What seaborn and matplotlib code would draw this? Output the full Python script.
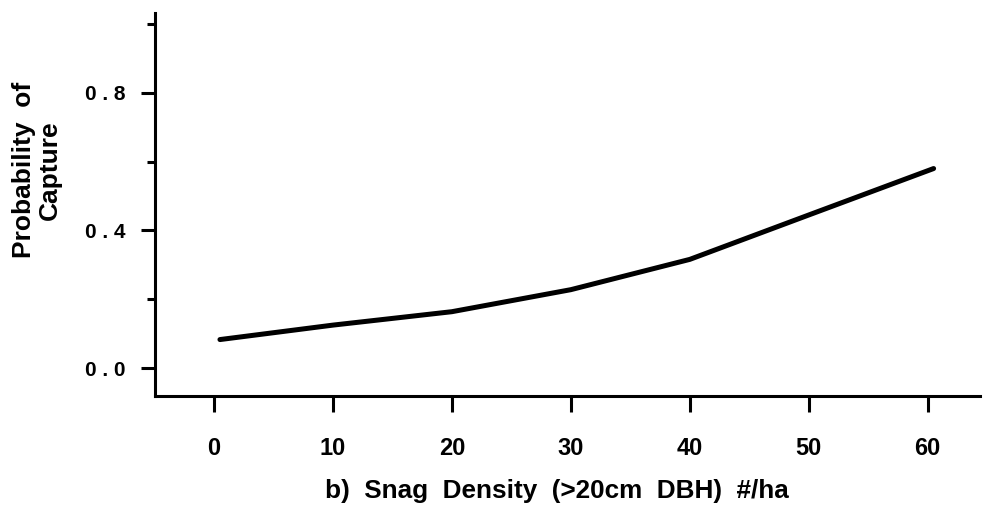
import matplotlib
matplotlib.use("Agg")
import matplotlib.pyplot as plt
import seaborn as sns
import pandas as pd
from matplotlib.ticker import FixedLocator

# Data
snag_density = [0.5, 10, 20, 30, 40, 50, 60.5]
prob_capture = [0.083, 0.125, 0.164, 0.228, 0.316, 0.445, 0.580]

xtick_values = [0, 10, 20, 30, 40, 50, 60]
xtick_labels = ["0", "10", "20", "30", "40", "50", "60"]
ytick_values = [0.0, 0.4, 0.8]
ytick_labels = ["0 . 0", "0 . 4", "0 . 8"]
ytick_minor = [0.2, 0.6, 1.0]

x_label = "b)  Snag  Density  (>20cm  DBH)  #/ha"
y_label = "Probability  of\nCapture"

df = pd.DataFrame({"x": snag_density, "y": prob_capture})

sns.set_theme(style="ticks")
plt.rcParams["font.family"] = ["Liberation Sans", "DejaVu Sans"]
plt.rcParams["font.weight"] = "bold"

fig = plt.figure(figsize=(9.83, 5.13), dpi=100)
ax = fig.add_axes([155 / 983, 1 - 396 / 513, (980 - 155) / 983, (396 - 13) / 513])

sns.lineplot(data=df, x="x", y="y", ax=ax, color="black", linewidth=3.6)

ax.set_xlim(-4.96, 64.4)
ax.set_ylim(-0.081, 1.032)
sns.despine(ax=ax)
for s in ["left", "bottom"]:
    ax.spines[s].set_linewidth(2.2)
    ax.spines[s].set_color("black")

ax.set_xticks(xtick_values)
ax.set_xticklabels(xtick_labels, fontsize=17, fontweight="bold")
ax.set_yticks(ytick_values)
ax.set_yticklabels(ytick_labels, fontsize=15, fontweight="bold")
ax.yaxis.set_minor_locator(FixedLocator(ytick_minor))

ax.tick_params(axis="x", which="major", length=11.5, width=2.2, pad=18, color="black", labelcolor="black")
ax.tick_params(axis="y", which="major", length=10, width=2.2, pad=11, color="black", labelcolor="black")
ax.tick_params(axis="y", which="minor", length=6, width=2.2, color="black")

ax.set_xlabel(x_label, fontsize=18.8, fontweight="bold", va="center", color="black")
ax.xaxis.set_label_coords(0.487, -0.248)
ax.set_ylabel(y_label, fontsize=19, fontweight="bold", va="center", ha="center",
              multialignment="center", linespacing=1.1, color="black")
ax.yaxis.set_label_coords(-0.143, 0.59)

ax.set_facecolor("white")
fig.patch.set_facecolor("white")
fig.savefig("out.png", dpi=100)
